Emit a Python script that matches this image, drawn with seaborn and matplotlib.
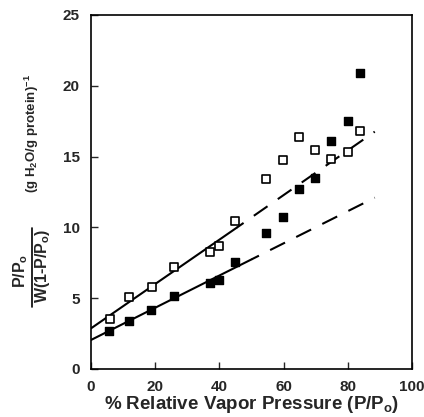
import matplotlib
matplotlib.use("Agg")
import matplotlib.pyplot as plt
import seaborn as sns
import pandas as pd
from matplotlib.lines import Line2D

# ---- data ----
filled_x = [5.7, 11.7, 18.7, 26.0, 37.0, 39.9, 44.8, 54.6, 59.9, 64.9, 69.9, 74.9, 80.0, 83.9]
filled_y = [2.7, 3.37, 4.17, 5.13, 6.1, 6.26, 7.53, 9.58, 10.7, 12.7, 13.5, 16.1, 17.5, 20.9]
open_x = [5.9, 11.7, 18.9, 26.0, 37.0, 39.9, 45.0, 54.6, 59.9, 64.9, 69.9, 74.9, 80.0, 83.9]
open_y = [3.53, 5.1, 5.81, 7.22, 8.24, 8.7, 10.43, 13.4, 14.76, 16.36, 15.5, 14.8, 15.35, 16.8]

# fitted lines (solid part and dashed extrapolation)
open_fit_x = [0.0, 45.4]
open_fit_y = [2.87, 9.98]
open_ext_x = [45.4, 88.4]
open_ext_y = [9.98, 16.76]
filled_fit_x = [0.0, 50.0]
filled_fit_y = [2.05, 7.74]
filled_ext_x = [50.0, 88.4]
filled_ext_y = [7.74, 12.1]

x_ticks = [0, 20, 40, 60, 80, 100]
y_ticks = [0, 5, 10, 15, 20, 25]

sns.set_theme(style="ticks")
plt.rcParams["font.family"] = ["Liberation Sans", "DejaVu Sans"]
plt.rcParams["font.weight"] = "bold"
plt.rcParams["mathtext.default"] = "regular"

W, H = 424, 417
fig = plt.figure(figsize=(W / 100, H / 100), dpi=100)
ax = fig.add_axes([91 / W, 1 - 369 / H, (412 - 91) / W, (369 - 15) / H])

lw = 1.5
sns.lineplot(x=open_fit_x, y=open_fit_y, ax=ax, color="black", linewidth=lw)
sns.lineplot(x=filled_fit_x, y=filled_fit_y, ax=ax, color="black", linewidth=lw)
sns.lineplot(x=open_ext_x, y=open_ext_y, ax=ax, color="black", linewidth=lw,
             linestyle=(4, (8, 6)))
sns.lineplot(x=filled_ext_x, y=filled_ext_y, ax=ax, color="black", linewidth=lw,
             linestyle=(4, (8, 6)))

sns.scatterplot(x=open_x, y=open_y, ax=ax, marker="s", s=38,
                facecolor="white", edgecolor="black", linewidth=1.2, zorder=5)
sns.scatterplot(x=filled_x, y=filled_y, ax=ax, marker="s", s=38,
                color="black", edgecolor="black", linewidth=1.0, zorder=6)

ax.set_xlim(0, 100)
ax.set_ylim(0, 25)
ax.set_xticks(x_ticks)
ax.set_yticks(y_ticks)
ax.tick_params(direction="in", length=5, width=1.0, labelsize=11, pad=8,
               top=False, right=False)
for lab in ax.get_xticklabels() + ax.get_yticklabels():
    lab.set_fontweight("bold")
for sp in ax.spines.values():
    sp.set_linewidth(1.2)
    sp.set_color("black")
    sp.set_visible(True)

ax.set_xlabel("% Relative Vapor Pressure (P/P$_\\mathregular{o}$)",
              fontsize=13.5, fontweight="bold", labelpad=0)
ax.set_ylabel("")

# y-axis label: fraction and units
fig.text(21 / W, 1 - 271 / H, "P/P$_\\mathregular{o}$", rotation=90,
         ha="center", va="center", fontsize=11.5, fontweight="bold")
fig.add_artist(Line2D([32 / W, 32 / W], [1 - 228 / H, 1 - 307 / H],
                      color="black", linewidth=1.2, transform=fig.transFigure))
fig.text(43 / W, 1 - 266 / H, "W(1-P/P$_\\mathregular{o}$)", rotation=90,
         ha="center", va="center", fontsize=11.5, fontweight="bold")
fig.text(32 / W, 1 - 134 / H, "(g H$_\\mathregular{2}$O/g protein)$^{\\mathregular{-1}}$",
         rotation=90, ha="center", va="center", fontsize=9.5, fontweight="bold")

fig.savefig("out.png", dpi=100)
